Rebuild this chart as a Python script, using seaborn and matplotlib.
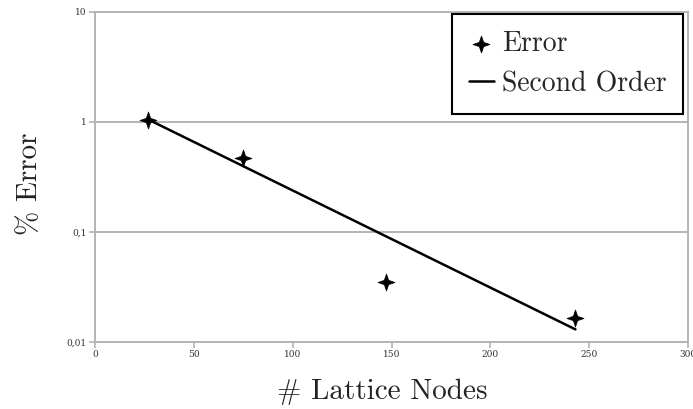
import numpy as np
import pandas as pd
import matplotlib
matplotlib.use("Agg")
import matplotlib.pyplot as plt
from matplotlib.path import Path
import seaborn as sns

# Data
nodes = [27, 75, 147, 243]
error_pct = [1.05, 0.47, 0.035, 0.0165]
fit_nodes = [27, 243]
fit_error = [1.05, 0.013]
y_ticks = [0.01, 0.1, 1, 10]
y_tick_labels = ["0,01", "0,1", "1", "10"]
x_ticks = [0, 50, 100, 150, 200, 250, 300]
x_tick_labels = ["0", "50", "100", "150", "200", "250", "300"]

sns.set_theme(style="white")
plt.rcParams['font.family'] = ['cmr10', 'DejaVu Serif']
plt.rcParams['axes.formatter.use_mathtext'] = True

# concave four-point star marker
ang = np.arange(8) * np.pi / 4 + np.pi / 2
rad = np.where(np.arange(8) % 2 == 0, 1.0, 0.36)
verts = np.column_stack([rad * np.cos(ang), rad * np.sin(ang)])
verts = np.vstack([verts, verts[:1]])
codes = [Path.MOVETO] + [Path.LINETO] * 7 + [Path.CLOSEPOLY]
star = Path(verts, codes)

df_pts = pd.DataFrame({"nodes": nodes, "err": error_pct})
df_fit = pd.DataFrame({"nodes": fit_nodes, "err": fit_error})

fig = plt.figure(figsize=(6.93, 4.09), dpi=100)
ax = fig.add_axes([0.137, 0.164, 0.856, 0.807])

sns.lineplot(data=df_fit, x="nodes", y="err", ax=ax, color="black",
             linewidth=1.8, label="Second Order", zorder=3)
sns.scatterplot(data=df_pts, x="nodes", y="err", ax=ax, marker=star,
                s=150, color="black", edgecolor="black", linewidth=0.5,
                label="Error", zorder=4)

ax.set_yscale("log")
ax.set_ylim(0.01, 10)
ax.set_xlim(0, 300)
ax.set_yticks(y_ticks)
ax.set_yticklabels(y_tick_labels)
ax.set_xticks(x_ticks)
ax.set_xticklabels(x_tick_labels)
ax.minorticks_off()
ax.yaxis.grid(True, color="#b4b4b4", linewidth=1.4)
ax.xaxis.grid(False)
for sp in ax.spines.values():
    sp.set_color("#b4b4b4")
    sp.set_linewidth(1.4)
ax.tick_params(axis="both", which="major", labelsize=6.5, colors="#b4b4b4",
               labelcolor="#333333", length=4, width=1.2, direction="out",
               bottom=True, left=True, pad=2)
for lab in ax.get_xticklabels() + ax.get_yticklabels():
    lab.set_family("DejaVu Serif")

ax.set_xlabel("# Lattice Nodes", fontsize=21, color="#222222")
ax.set_ylabel("% Error", fontsize=21, color="#222222")
ax.xaxis.set_label_coords(0.484, -0.112)
ax.yaxis.set_label_coords(-0.088, 0.48)

handles, labels = ax.get_legend_handles_labels()
order = [labels.index("Error"), labels.index("Second Order")]
leg = ax.legend([handles[i] for i in order], [labels[i] for i in order],
                loc="upper right", bbox_to_anchor=(0.992, 0.994),
                fontsize=20, frameon=True, fancybox=False,
                handlelength=0.9, handletextpad=0.3, borderpad=0.6,
                labelspacing=0.5, borderaxespad=0)
leg.get_frame().set_edgecolor("black")
leg.get_frame().set_linewidth(1.5)
leg.get_frame().set_alpha(1)

fig.savefig("out.png", dpi=100)
